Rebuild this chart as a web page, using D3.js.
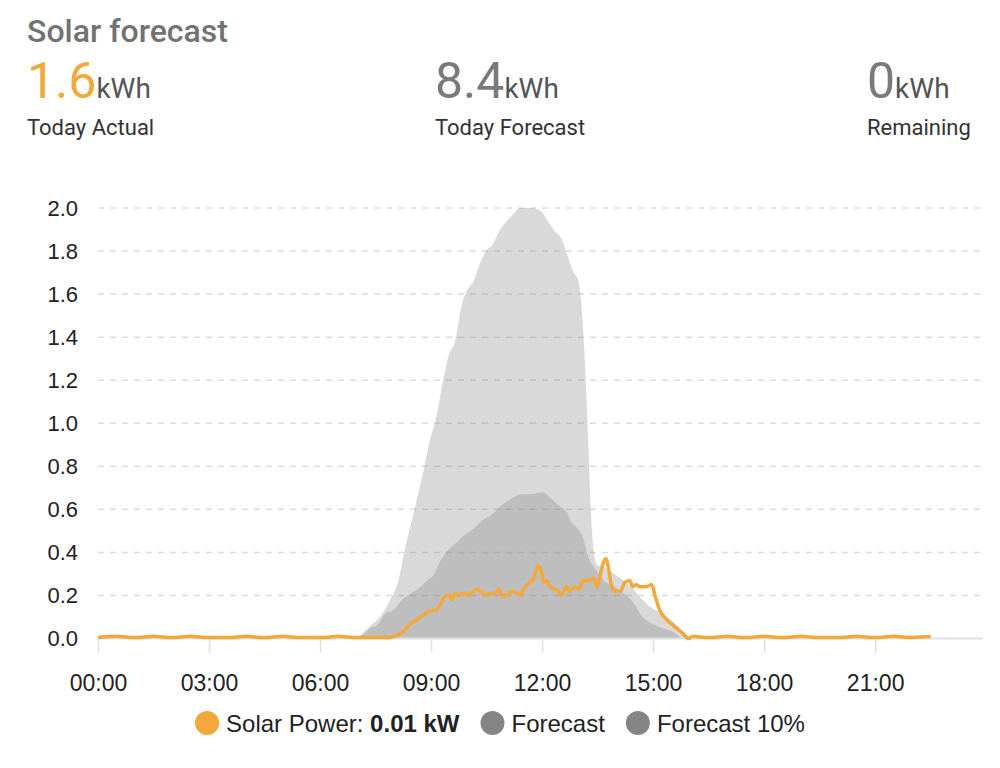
<!DOCTYPE html>
<html>
<head>
<meta charset="utf-8">
<script src="https://cdn.jsdelivr.net/npm/d3@7"></script>
<style>
  html, body { margin: 0; padding: 0; background: #fff; }
  svg { display: block; }
</style>
</head>
<body>
<div id="chart"></div>
<script>
// header stats
const statValues = ["1.6", "8.4", "0"];
const statUnits = ["kWh", "kWh", "kWh"];
const statLabels = ["Today Actual", "Today Forecast", "Remaining"];

// forecast
const forecast = [
  ["00:00", 0], ["06:52", 0], ["07:07", 0.02], ["07:22", 0.06], ["07:37", 0.10],
  ["07:52", 0.17], ["08:08", 0.28], ["08:18", 0.42], ["08:28", 0.54], ["08:38", 0.66],
  ["08:48", 0.78], ["08:58", 0.92], ["09:08", 1.02], ["09:19", 1.19], ["09:29", 1.32],
  ["09:39", 1.38], ["09:49", 1.54], ["09:59", 1.62], ["10:09", 1.66], ["10:19", 1.74],
  ["10:29", 1.80], ["10:40", 1.83], ["10:50", 1.89], ["11:00", 1.93], ["11:10", 1.96],
  ["11:25", 2.00], ["11:40", 2.00], ["11:56", 1.99], ["12:11", 1.93], ["12:21", 1.89],
  ["12:31", 1.86], ["12:41", 1.78], ["12:51", 1.70], ["12:58", 1.67], ["13:04", 1.54],
  ["13:09", 1.31], ["13:15", 0.90], ["13:19", 0.60], ["13:24", 0.40], ["13:30", 0.34],
  ["13:42", 0.33], ["13:57", 0.30], ["14:12", 0.27], ["14:27", 0.23], ["14:43", 0.18],
  ["14:58", 0.14], ["15:13", 0.12], ["15:28", 0.09], ["15:43", 0.05], ["15:59", 0.01],
  ["16:14", 0], ["23:30", 0]
];

const forecast10 = [
  ["00:00", 0], ["06:57", 0], ["07:07", 0.01], ["07:22", 0.05], ["07:32", 0.06],
  ["07:47", 0.12], ["07:58", 0.13], ["08:13", 0.18], ["08:28", 0.21], ["08:43", 0.24],
  ["08:53", 0.27], ["09:03", 0.29], ["09:13", 0.35], ["09:24", 0.40], ["09:39", 0.44],
  ["09:54", 0.48], ["10:09", 0.51], ["10:24", 0.55], ["10:40", 0.58], ["10:55", 0.62],
  ["11:10", 0.65], ["11:25", 0.67], ["11:40", 0.67], ["12:01", 0.68], ["12:11", 0.66],
  ["12:26", 0.62], ["12:41", 0.58], ["12:48", 0.54], ["12:58", 0.51], ["13:06", 0.47],
  ["13:16", 0.37], ["13:27", 0.32], ["13:40", 0.27], ["13:57", 0.24], ["14:12", 0.21],
  ["14:27", 0.17], ["14:43", 0.10], ["14:58", 0.07], ["15:13", 0.05], ["15:33", 0.03],
  ["15:48", 0], ["23:30", 0]
];

// measured solar power
const solarPower = [
  ["00:00", 0.005], ["00:30", 0.01], ["01:00", 0.005], ["01:30", 0.01], ["02:00", 0.005],
  ["02:30", 0.01], ["03:00", 0.005], ["03:30", 0.005], ["04:00", 0.01], ["04:30", 0.005],
  ["05:00", 0.01], ["05:30", 0.005], ["06:00", 0.005], ["06:30", 0.01], ["07:00", 0.005],
  ["07:37", 0.005], ["07:52", 0.005], ["08:08", 0.02], ["08:18", 0.04], ["08:23", 0.06],
  ["08:33", 0.08], ["08:43", 0.10], ["08:53", 0.12], ["09:03", 0.13], ["09:08", 0.13],
  ["09:13", 0.15], ["09:19", 0.18], ["09:24", 0.20], ["09:29", 0.20], ["09:34", 0.18],
  ["09:39", 0.21], ["09:44", 0.20], ["09:54", 0.21], ["09:59", 0.20], ["10:09", 0.22],
  ["10:14", 0.23], ["10:24", 0.21], ["10:29", 0.20], ["10:40", 0.21], ["10:45", 0.21],
  ["10:50", 0.23], ["10:55", 0.20], ["11:05", 0.20], ["11:10", 0.22], ["11:20", 0.21],
  ["11:25", 0.20], ["11:30", 0.23], ["11:40", 0.26], ["11:45", 0.27], ["11:50", 0.31],
  ["11:53", 0.34], ["11:59", 0.31], ["12:03", 0.26], ["12:08", 0.27], ["12:13", 0.24],
  ["12:26", 0.22], ["12:31", 0.20], ["12:39", 0.24], ["12:44", 0.22], ["12:53", 0.24],
  ["13:01", 0.23], ["13:06", 0.27], ["13:17", 0.27], ["13:24", 0.28], ["13:29", 0.24],
  ["13:34", 0.29], ["13:39", 0.35], ["13:44", 0.37], ["13:48", 0.32], ["13:53", 0.24],
  ["13:58", 0.22], ["14:07", 0.22], ["14:14", 0.26], ["14:22", 0.27], ["14:27", 0.24],
  ["14:32", 0.25], ["14:39", 0.24], ["14:48", 0.24], ["14:58", 0.25], ["15:03", 0.20],
  ["15:11", 0.13], ["15:21", 0.09], ["15:33", 0.06], ["15:46", 0.03], ["15:58", 0.00],
  ["16:04", 0.01], ["16:30", 0.005], ["17:00", 0.01], ["17:30", 0.005], ["18:00", 0.01],
  ["18:30", 0.005], ["19:00", 0.01], ["19:30", 0.005], ["20:00", 0.005], ["20:30", 0.01],
  ["21:00", 0.005], ["21:30", 0.01], ["22:00", 0.005], ["22:30", 0.01]
];

const yTicks = [0, 0.2, 0.4, 0.6, 0.8, 1.0, 1.2, 1.4, 1.6, 1.8, 2.0];
const legendNames = ["Solar Power: ", "Forecast", "Forecast 10%"];

const orange = "#f2a83b";
const grey = "#7c7c7c";
const W = 1000, H = 768;
const margin = { top: 208, right: 20, bottom: 129, left: 98 };

const parse = d3.timeParse("%H:%M");
const toPts = (arr) => arr.map(d => ({ t: parse(d[0]), v: d[1] }));

const svg = d3.select("#chart").append("svg")
  .attr("width", W).attr("height", H)
  .style("font-family", "'Liberation Sans', Arial, sans-serif");

// header
svg.append("text")
  .attr("x", 27).attr("y", 42)
  .style("font-family", "Roboto, sans-serif")
  .style("font-size", "32px").style("font-weight", 500)
  .attr("fill", "#727272")
  .text("Solar forecast");

const statX = [27, 435, 867];
statValues.forEach((v, i) => {
  const t = svg.append("text")
    .attr("x", statX[i]).attr("y", 98)
    .style("font-family", "Roboto, sans-serif");
  t.append("tspan").style("font-size", "50px")
    .attr("fill", i === 0 ? orange : "#7a7a7a").text(v);
  t.append("tspan").style("font-size", "28px")
    .attr("fill", "#555").text(statUnits[i]);
  svg.append("text")
    .attr("x", statX[i]).attr("y", 135)
    .style("font-family", "Roboto, sans-serif")
    .style("font-size", "22px")
    .attr("fill", "#333")
    .text(statLabels[i]);
});

const x = d3.scaleTime()
  .domain([parse("00:00"), parse("23:50")])
  .range([margin.left, W - margin.right]);
const y = d3.scaleLinear()
  .domain([0, 2])
  .range([H - margin.bottom - 0.5, margin.top]);

// grid
svg.append("g")
  .selectAll("line")
  .data(yTicks.filter(d => d > 0))
  .join("line")
  .attr("x1", x.range()[0]).attr("x2", x.range()[1])
  .attr("y1", d => y(d)).attr("y2", d => y(d))
  .attr("stroke", "#dcdcdc").attr("stroke-width", 1.5)
  .attr("stroke-dasharray", "6 6");

// areas
const area = d3.area()
  .x(d => x(d.t)).y0(y(0)).y1(d => y(d.v))
  .curve(d3.curveMonotoneX);

svg.append("path").datum(toPts(forecast))
  .attr("d", area).attr("fill", grey).attr("fill-opacity", 0.29);
svg.append("path").datum(toPts(forecast10))
  .attr("d", area).attr("fill", grey).attr("fill-opacity", 0.29);

// baseline
svg.append("line")
  .attr("x1", x.range()[0]).attr("x2", x.range()[1] + 3)
  .attr("y1", y(0)).attr("y2", y(0))
  .attr("stroke", "#e0e0e0").attr("stroke-width", 2);

// x axis
const xAxis = d3.axisBottom(x)
  .ticks(d3.timeHour.every(3))
  .tickFormat(d3.timeFormat("%H:%M"))
  .tickSize(13).tickPadding(22);
const gx = svg.append("g")
  .attr("transform", `translate(0,${y(0) + 1})`)
  .call(xAxis);
gx.select(".domain").remove();
gx.selectAll(".tick line").attr("stroke", "#e0e0e0").attr("stroke-width", 1.5);
gx.selectAll(".tick text")
  .attr("fill", "#222").style("font-size", "23px")
  .style("font-family", "'Liberation Sans', Arial, sans-serif");

// y axis
const yAxis = d3.axisLeft(y)
  .tickValues(yTicks)
  .tickFormat(d3.format(".1f"))
  .tickSize(0).tickPadding(20);
const gy = svg.append("g")
  .attr("transform", `translate(${margin.left},0)`)
  .call(yAxis);
gy.select(".domain").remove();
gy.selectAll(".tick text")
  .attr("fill", "#222").style("font-size", "22px")
  .style("font-family", "'Liberation Sans', Arial, sans-serif");

// solar line
const line = d3.line()
  .x(d => x(d.t)).y(d => y(d.v))
  .curve(d3.curveMonotoneX);
const solarPts = toPts(solarPower);
svg.append("path").datum(solarPts)
  .attr("d", line)
  .attr("fill", "none")
  .attr("stroke", orange)
  .attr("stroke-width", 3.5)
  .attr("stroke-linejoin", "round");

// legend
const lastVal = solarPts[solarPts.length - 1].v;
const legendColors = [orange, "#858585", "#858585"];
const lg = svg.append("g");
let cx = 0;
legendNames.forEach((name, i) => {
  const item = lg.append("g").attr("transform", `translate(${cx},0)`);
  item.append("circle").attr("cx", 0).attr("cy", 0).attr("r", 12)
    .attr("fill", legendColors[i]);
  const t = item.append("text").attr("x", 19).attr("y", 8.5)
    .style("font-size", "24px").attr("fill", "#222");
  t.append("tspan").text(name);
  if (i === 0) {
    t.append("tspan").style("font-weight", "bold")
      .text(`${d3.format(".2f")(lastVal)} kW`);
  }
  const w = t.node().getComputedTextLength();
  cx += 19 + w + 33;
});
const bb = lg.node().getBBox();
lg.attr("transform", `translate(${500 - bb.width / 2 - bb.x},723)`);
</script>
</body>
</html>
